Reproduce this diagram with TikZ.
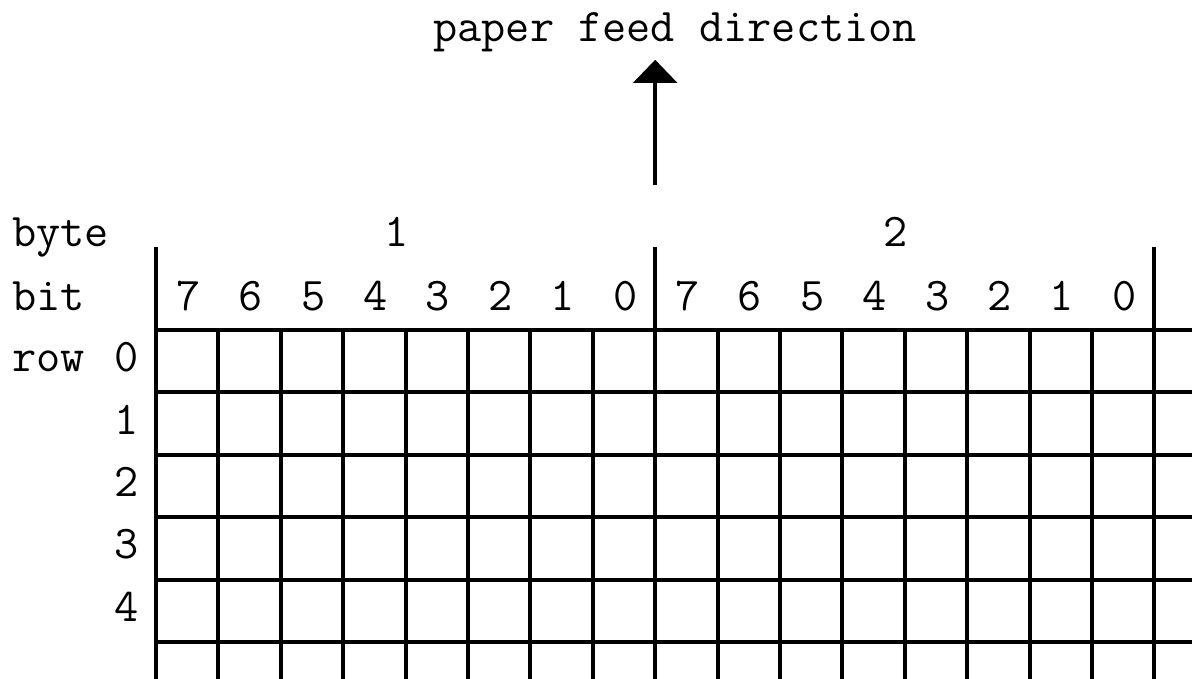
\documentclass[tikz,border=0pt]{standalone}
\usepackage{fontspec}
\usetikzlibrary{arrows.meta}

\begin{document}
\begin{tikzpicture}[
    lbl/.style={font=\ttfamily\fontsize{21.4}{26}\selectfont,inner sep=0pt,anchor=base},
    gridline/.style={line width=1.8pt},
    arr/.style={-{Triangle[length=3.7mm,width=7mm]},line width=1.6pt},
]
\useasboundingbox (-2.5,-5.593) rectangle (16.603,5.288);

% Feed direction
\node[lbl] (feed) at (8.32,4.63) {paper feed direction};
\coordinate (feedtail) at (8,2.32);
\coordinate (feedtip) at (8,4.33);
\draw[arr] (feedtail) -- (feedtip);

% Left headings
\node[lbl,anchor=base west] (byte) at (-2.31,1.33) {byte};
\node[lbl,anchor=base west] (bit) at (-2.31,0.32) {bit};
\node[lbl,anchor=base west] (row) at (-2.31,-0.67) {row};

% Byte numbers
\node[lbl] (byte1) at (3.86,1.33) {1};
\node[lbl] (byte2) at (11.86,1.33) {2};

% Bit numbers
\foreach \b [count=\i from 0] in {7,6,5,4,3,2,1,0,7,6,5,4,3,2,1,0}
  \node[lbl] (bit\i) at (\i+0.52,0.32) {\b};

% Row numbers
\foreach \r in {0,...,4}
  \node[lbl] (row\r) at (-0.47,-0.67-\r) {\r};

% Grid
\foreach \x in {0,...,16}
  \draw[gridline] (\x,0) -- (\x,-5.593);
\foreach \y in {0,...,5}
  \draw[gridline] (0,-\y) -- (16.603,-\y);
\foreach \x in {0,8,16}
  \draw[gridline] (\x,1.33) -- (\x,0);
\end{tikzpicture}
\end{document}
